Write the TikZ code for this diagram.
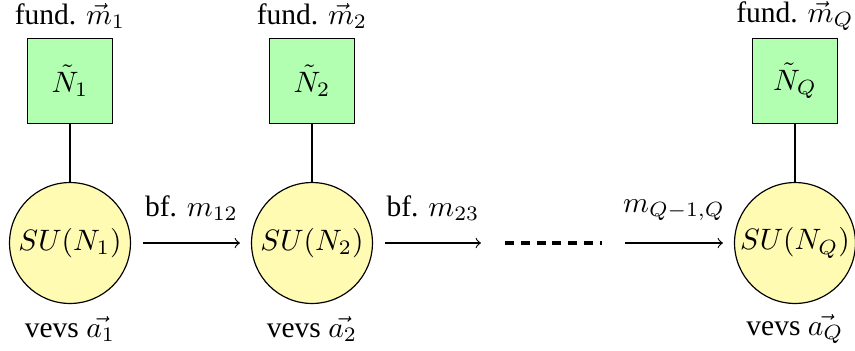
\documentclass[tikz,border=0pt]{standalone}
\usepackage{fontspec}
\setmainfont{Liberation Serif}
\begin{document}
\begin{tikzpicture}[x=0.339pt,y=-0.339pt,
  gauge/.style={circle,draw,fill=yellow!30,minimum size=41pt,inner sep=0pt},
  flav/.style={rectangle,draw,fill=green!30,minimum size=28.8pt,inner sep=0pt},
  lbl/.style={inner sep=0pt},
  arr/.style={->},
  dots/.style={very thick,dash pattern=on 3.05pt off 2.3pt}]
\useasboundingbox (0,0) rectangle (855,350);
% gauge nodes
\node[gauge] (g1) at (70,243) {$SU(N_1)$};
\node[gauge] (g2) at (312,243) {$SU(N_2)$};
\node[gauge] (gQ) at (795,243) {$SU(N_Q)$};
% flavour nodes
\node[flav] (f1) at (70,81) {$\tilde N_1$};
\node[flav] (f2) at (312,81) {$\tilde N_2$};
\node[flav] (fQ) at (795,81) {$\tilde N_Q$};
\draw (f1) -- (g1);
\draw (f2) -- (g2);
\draw (fQ) -- (gQ);
% top labels
\node[lbl] (t1) at (70,16) {fund. $\vec m_1$};
\node[lbl] (t2) at (312,16) {fund. $\vec m_2$};
\node[lbl] (tQ) at (795,16) {fund. $\vec m_Q$};
% bottom labels
\node[lbl] (b1) at (70,329) {vevs $\vec{a_1}$};
\node[lbl] (b2) at (312,329) {vevs $\vec{a_2}$};
\node[lbl] (bQ) at (795,329) {vevs $\vec{a_Q}$};
% arrows
\coordinate (a1s) at (143,243);
\coordinate (a1e) at (240,243);
\coordinate (a2s) at (385,243);
\coordinate (a2e) at (481,243);
\coordinate (ds) at (505,243);
\coordinate (de) at (602,243);
\coordinate (a3s) at (625,243);
\coordinate (a3e) at (723,243);
\draw[arr] (a1s) -- node[above=4pt] (l1) {bf. $m_{12}$} (a1e);
\draw[arr] (a2s) -- node[above=4pt] (l2) {bf. $m_{23}$} (a2e);
\draw[dots] (ds) -- (de);
\draw[arr] (a3s) -- node[above=4pt] (l3) {$m_{Q-1,Q}$} (a3e);
\end{tikzpicture}
\end{document}
